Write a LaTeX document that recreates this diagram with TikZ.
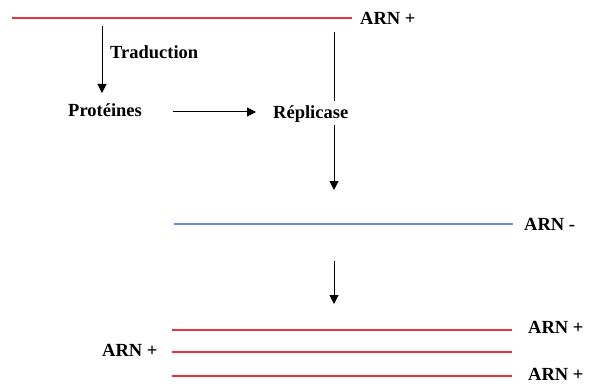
\documentclass[tikz,border=0pt]{standalone}
\usepackage{fontspec}
\setmainfont{Liberation Serif}
\usetikzlibrary{arrows.meta}
\definecolor{rnared}{RGB}{238,50,60}
\definecolor{rnablue}{RGB}{105,140,232}
\begin{document}
\begin{tikzpicture}[x=1pt,y=-1pt,
  lbl/.style={anchor=west,inner sep=0pt,font=\fontsize{18.5}{20}\selectfont\bfseries},
  plusstrand/.style={draw=rnared,line width=1.2pt},
  minusstrand/.style={draw=rnablue,line width=1.2pt},
  arr/.style={draw=black,line width=1pt,-{Triangle[length=9pt,width=9pt]}},
  conn/.style={draw=black,line width=1pt}]
\useasboundingbox (0,0) rectangle (589,385);
% top RNA +
\coordinate (t1) at (12,18);
\coordinate (t2) at (352,18);
\draw[plusstrand] (t1) -- (t2);
\node[lbl] (arn1) at (360,18) {ARN +};
% translation
\coordinate (tr1) at (102,26);
\node[lbl] (prot) at (68,110) {Protéines};
\draw[arr] (tr1) -- (102,93) coordinate (tr2);
\node[lbl] (trad) at (110,52) {Traduction};
% proteins -> replicase
\node[lbl] (repl) at (273,114) {Réplicase};
\coordinate (p1) at (173,112);
\coordinate (p2) at (256,112);
\draw[arr] (p1) -- (p2);
% vertical line
\coordinate (v1) at (334,32);
\coordinate (v2) at (334,101);
\draw[conn] (v1) -- (v2);
\coordinate (v3) at (334,125);
\coordinate (v4) at (334,190);
\draw[arr] (v3) -- (v4);
% RNA -
\coordinate (b1) at (174,224);
\coordinate (b2) at (513,224);
\draw[minusstrand] (b1) -- (b2);
\node[lbl] (arnm) at (524,224) {ARN -};
% arrow
\coordinate (w1) at (334,261);
\coordinate (w2) at (334,304);
\draw[arr] (w1) -- (w2);
% three RNA +
\coordinate (r1a) at (172,330); \coordinate (r1b) at (512,330);
\coordinate (r2a) at (172,352); \coordinate (r2b) at (512,352);
\coordinate (r3a) at (172,376); \coordinate (r3b) at (512,376);
\draw[plusstrand] (r1a) -- (r1b);
\draw[plusstrand] (r2a) -- (r2b);
\draw[plusstrand] (r3a) -- (r3b);
\node[lbl] (arn2) at (528,327) {ARN +};
\node[lbl] (arn3) at (102,350) {ARN +};
\node[lbl] (arn4) at (528,374) {ARN +};
\end{tikzpicture}
\end{document}
